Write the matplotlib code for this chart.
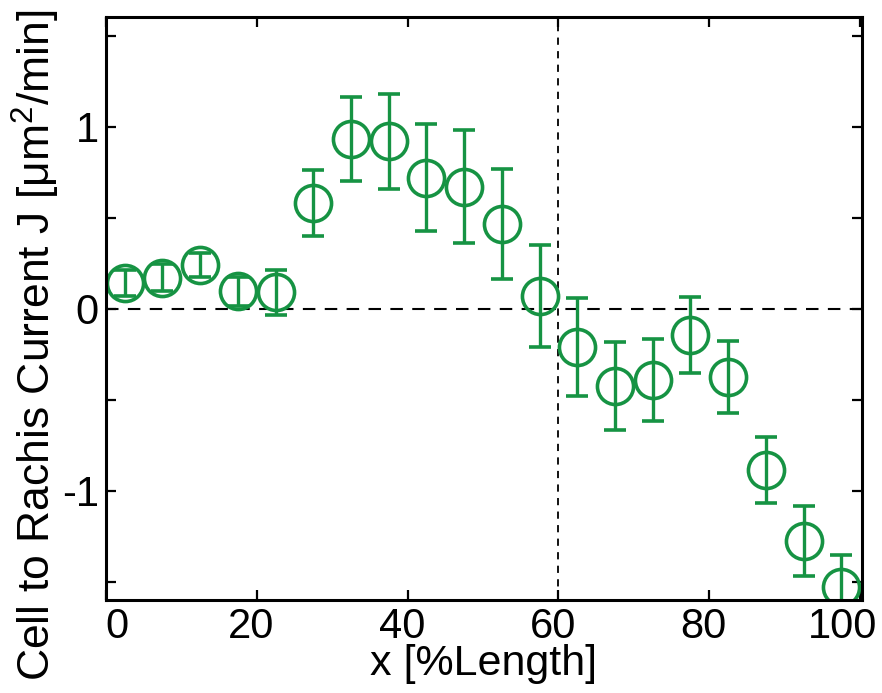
import numpy as np
import matplotlib
matplotlib.use("Agg")
import matplotlib.pyplot as plt
from matplotlib.transforms import ScaledTranslation

plt.rcParams['font.family'] = ['Liberation Sans', 'DejaVu Sans']
plt.rcParams['mathtext.fontset'] = 'custom'
plt.rcParams['mathtext.rm'] = 'Liberation Sans'
plt.rcParams['mathtext.it'] = 'Liberation Sans'

# position along the rachis (% length) and the current J with its error
x_pos = [2.5, 7.5, 12.5, 17.5, 22.5, 27.5, 32.5, 37.5, 42.5, 47.5,
         52.5, 57.5, 62.5, 67.5, 72.5, 77.5, 82.5, 87.5, 92.5, 97.5]
j_val = [0.14, 0.17, 0.24, 0.095, 0.09, 0.58, 0.93, 0.92, 0.72, 0.67,
         0.465, 0.07, -0.21, -0.425, -0.39, -0.145, -0.375, -0.885, -1.275, -1.53]
j_err = [0.07, 0.075, 0.065, 0.08, 0.125, 0.18, 0.23, 0.26, 0.295, 0.31,
         0.30, 0.28, 0.27, 0.24, 0.225, 0.21, 0.20, 0.18, 0.19, 0.18]

x_ticks = [0, 20, 40, 60, 80, 100]
y_ticks = [-1.5, -1, -0.5, 0, 0.5, 1, 1.5]
y_ticklabels = ['', '-1', '', '0', '', '1', '']

green = '#169343'

fig = plt.figure(figsize=(8.82, 6.93), dpi=100)
ax = fig.add_axes([0.120, 0.134, 0.857, 0.841])

ax.axhline(0, color='k', lw=1.5, ls=(0, (6, 4.5)), zorder=1)
ax.axvline(60, color='k', lw=1.3, ls=(0, (4, 3.5)), zorder=1)

ax.errorbar(x_pos, j_val, yerr=j_err, fmt='o', color=green,
            mfc='none', mec=green, ms=26, mew=2.6,
            elinewidth=2.4, capsize=8, capthick=2.4, zorder=3)

ax.set_xlim(0, 100.2)
ax.set_ylim(-1.6, 1.6)
ax.set_xticks(x_ticks)
ax.set_yticks(y_ticks)
ax.set_yticklabels(y_ticklabels)

ax.tick_params(direction='in', length=7, width=1.6, top=True, right=True,
               labelsize=30, pad=5)
for s in ax.spines.values():
    s.set_linewidth(2.2)
    s.set_zorder(4)

# nudge the end labels so they sit inside the frame edges
labels = ax.get_xticklabels()
for lab in labels:
    lab.set_transform(lab.get_transform() + ScaledTranslation(-4 / 72, 0, fig.dpi_scale_trans))
labels[0].set_transform(labels[0].get_transform() + ScaledTranslation(12 / 72, 0, fig.dpi_scale_trans))
labels[-1].set_transform(labels[-1].get_transform() + ScaledTranslation(-9 / 72, 0, fig.dpi_scale_trans))

ax.set_xlabel('x [%Length]', fontsize=31, labelpad=-2)
ax.set_ylabel(r'Cell to Rachis Current J [μm$^2$/min]', fontsize=32)
ax.yaxis.set_label_coords(-0.058, 0.437)

plt.savefig('out.png', dpi=100)
